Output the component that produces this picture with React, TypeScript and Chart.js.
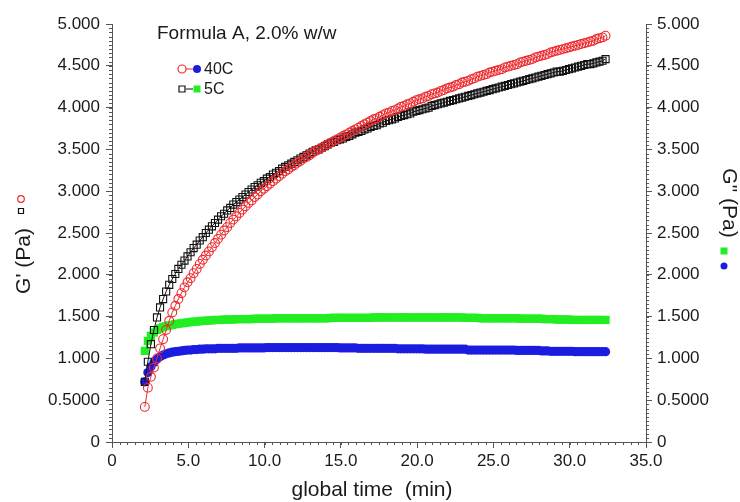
import React, { useEffect, useRef } from "react";
import { Chart, registerables } from "chart.js";

Chart.register(...registerables);

// ---------- data ----------
const timeMin = [
  2.15, 2.35, 2.55, 2.75, 2.95, 3.15, 3.35, 3.55, 3.75, 3.95,
  4.15, 4.35, 4.55, 4.75, 4.95, 5.15, 5.35, 5.55, 5.75, 5.95,
  6.15, 6.35, 6.55, 6.75, 6.95, 7.15, 7.35, 7.55, 7.75, 7.95,
  8.15, 8.35, 8.55, 8.75, 8.95, 9.15, 9.35, 9.55, 9.75, 9.95,
  10.15, 10.35, 10.55, 10.75, 10.95, 11.15, 11.35, 11.55, 11.75, 11.95,
  12.15, 12.35, 12.55, 12.75, 12.95, 13.15, 13.35, 13.55, 13.75, 13.95,
  14.15, 14.35, 14.55, 14.75, 14.95, 15.15, 15.35, 15.55, 15.75, 15.95,
  16.15, 16.35, 16.55, 16.75, 16.95, 17.15, 17.35, 17.55, 17.75, 17.95,
  18.15, 18.35, 18.55, 18.75, 18.95, 19.15, 19.35, 19.55, 19.75, 19.95,
  20.15, 20.35, 20.55, 20.75, 20.95, 21.15, 21.35, 21.55, 21.75, 21.95,
  22.15, 22.35, 22.55, 22.75, 22.95, 23.15, 23.35, 23.55, 23.75, 23.95,
  24.15, 24.35, 24.55, 24.75, 24.95, 25.15, 25.35, 25.55, 25.75, 25.95,
  26.15, 26.35, 26.55, 26.75, 26.95, 27.15, 27.35, 27.55, 27.75, 27.95,
  28.15, 28.35, 28.55, 28.75, 28.95, 29.15, 29.35, 29.55, 29.75, 29.95,
  30.15, 30.35, 30.55, 30.75, 30.95, 31.15, 31.35, 31.55, 31.75, 31.95,
  32.15, 32.35,
];

// 40C, G' (left axis)
const gPrime40C = [
  0.42, 0.65, 0.78, 0.89, 1.0, 1.12, 1.23, 1.34, 1.45, 1.55,
  1.63, 1.71, 1.78, 1.85, 1.91, 1.96, 2.02, 2.07, 2.13, 2.18,
  2.23, 2.28, 2.33, 2.38, 2.43, 2.48, 2.53, 2.57, 2.62, 2.66,
  2.7, 2.74, 2.78, 2.82, 2.86, 2.89, 2.93, 2.96, 3.0, 3.03,
  3.06, 3.09, 3.12, 3.15, 3.18, 3.21, 3.24, 3.26, 3.29, 3.31,
  3.34, 3.36, 3.39, 3.41, 3.43, 3.46, 3.48, 3.5, 3.52, 3.54,
  3.56, 3.58, 3.6, 3.62, 3.64, 3.66, 3.68, 3.7, 3.72, 3.74,
  3.76, 3.78, 3.8, 3.82, 3.84, 3.86, 3.87, 3.89, 3.91, 3.93,
  3.94, 3.96, 3.97, 3.99, 4.01, 4.02, 4.04, 4.05, 4.07, 4.09,
  4.1, 4.11, 4.13, 4.14, 4.16, 4.17, 4.18, 4.2, 4.21, 4.23,
  4.24, 4.25, 4.27, 4.28, 4.3, 4.31, 4.32, 4.34, 4.35, 4.37,
  4.38, 4.39, 4.4, 4.42, 4.43, 4.44, 4.45, 4.46, 4.48, 4.49,
  4.5, 4.51, 4.52, 4.54, 4.55, 4.56, 4.57, 4.58, 4.6, 4.61,
  4.62, 4.63, 4.64, 4.66, 4.67, 4.68, 4.69, 4.7, 4.71, 4.72,
  4.73, 4.74, 4.75, 4.76, 4.77, 4.78, 4.79, 4.8, 4.82, 4.83,
  4.84, 4.86,
];

// 5C, G' (left axis)
const gPrime5C = [
  0.72, 0.96, 1.17, 1.34, 1.49, 1.61, 1.71, 1.8, 1.88, 1.95,
  2.01, 2.07, 2.12, 2.17, 2.22, 2.27, 2.32, 2.36, 2.41, 2.45,
  2.5, 2.54, 2.58, 2.62, 2.66, 2.7, 2.73, 2.77, 2.8, 2.84,
  2.87, 2.9, 2.93, 2.96, 2.99, 3.02, 3.05, 3.07, 3.1, 3.12,
  3.15, 3.17, 3.2, 3.22, 3.24, 3.27, 3.29, 3.31, 3.33, 3.35,
  3.37, 3.39, 3.41, 3.43, 3.45, 3.47, 3.49, 3.5, 3.52, 3.54,
  3.56, 3.58, 3.59, 3.61, 3.62, 3.63, 3.65, 3.66, 3.68, 3.7,
  3.71, 3.72, 3.74, 3.75, 3.77, 3.78, 3.79, 3.81, 3.82, 3.84,
  3.85, 3.86, 3.87, 3.89, 3.9, 3.91, 3.92, 3.93, 3.95, 3.96,
  3.97, 3.98, 3.99, 4.0, 4.02, 4.03, 4.04, 4.05, 4.06, 4.07,
  4.08, 4.09, 4.1, 4.11, 4.12, 4.13, 4.14, 4.15, 4.16, 4.17,
  4.18, 4.19, 4.2, 4.21, 4.22, 4.23, 4.24, 4.25, 4.26, 4.27,
  4.28, 4.29, 4.3, 4.31, 4.32, 4.33, 4.34, 4.35, 4.36, 4.37,
  4.38, 4.39, 4.4, 4.41, 4.42, 4.43, 4.43, 4.44, 4.45, 4.46,
  4.47, 4.48, 4.49, 4.5, 4.51, 4.52, 4.52, 4.53, 4.54, 4.55,
  4.56, 4.58,
];

// 40C, G'' (right axis)
const gDouble40C = [
  0.72, 0.83, 0.9, 0.95, 0.99, 1.02, 1.04, 1.055, 1.065, 1.075,
  1.08, 1.085, 1.09, 1.095, 1.1, 1.1, 1.105, 1.105, 1.11, 1.11,
  1.115, 1.115, 1.115, 1.115, 1.12, 1.12, 1.12, 1.12, 1.12, 1.12,
  1.12, 1.125, 1.125, 1.125, 1.125, 1.125, 1.125, 1.125, 1.125, 1.125,
  1.13, 1.13, 1.13, 1.13, 1.13, 1.13, 1.13, 1.13, 1.13, 1.13,
  1.13, 1.13, 1.13, 1.13, 1.13, 1.13, 1.13, 1.13, 1.13, 1.13,
  1.13, 1.13, 1.13, 1.13, 1.125, 1.125, 1.125, 1.125, 1.125, 1.125,
  1.12, 1.12, 1.12, 1.12, 1.12, 1.12, 1.12, 1.12, 1.12, 1.12,
  1.12, 1.12, 1.12, 1.115, 1.115, 1.115, 1.115, 1.115, 1.115, 1.115,
  1.115, 1.115, 1.11, 1.11, 1.11, 1.11, 1.11, 1.11, 1.11, 1.11,
  1.11, 1.11, 1.11, 1.11, 1.11, 1.11, 1.1, 1.1, 1.1, 1.1,
  1.1, 1.1, 1.1, 1.1, 1.1, 1.1, 1.1, 1.1, 1.1, 1.1,
  1.1, 1.1, 1.095, 1.095, 1.095, 1.095, 1.095, 1.095, 1.095, 1.095,
  1.09, 1.09, 1.09, 1.085, 1.085, 1.085, 1.085, 1.085, 1.085, 1.085,
  1.085, 1.08, 1.08, 1.08, 1.08, 1.08, 1.08, 1.08, 1.08, 1.08,
  1.08, 1.08,
];

// 5C, G'' (right axis)
const gDouble5C = [
  1.09, 1.21, 1.27, 1.31, 1.34, 1.36, 1.375, 1.385, 1.395, 1.4,
  1.41, 1.415, 1.42, 1.425, 1.43, 1.435, 1.44, 1.44, 1.445, 1.45,
  1.45, 1.455, 1.455, 1.46, 1.46, 1.46, 1.465, 1.465, 1.465, 1.465,
  1.47, 1.47, 1.47, 1.47, 1.47, 1.47, 1.475, 1.475, 1.475, 1.475,
  1.475, 1.475, 1.475, 1.48, 1.48, 1.48, 1.48, 1.48, 1.48, 1.48,
  1.48, 1.48, 1.48, 1.48, 1.48, 1.48, 1.48, 1.48, 1.48, 1.48,
  1.48, 1.485, 1.485, 1.485, 1.485, 1.485, 1.485, 1.485, 1.485, 1.485,
  1.485, 1.485, 1.485, 1.485, 1.485, 1.49, 1.49, 1.49, 1.49, 1.49,
  1.49, 1.49, 1.49, 1.49, 1.49, 1.49, 1.49, 1.49, 1.49, 1.49,
  1.49, 1.49, 1.49, 1.49, 1.49, 1.49, 1.49, 1.49, 1.49, 1.49,
  1.49, 1.49, 1.49, 1.49, 1.49, 1.485, 1.485, 1.485, 1.485, 1.485,
  1.48, 1.48, 1.48, 1.48, 1.48, 1.48, 1.48, 1.48, 1.48, 1.48,
  1.48, 1.48, 1.48, 1.475, 1.475, 1.475, 1.475, 1.475, 1.475, 1.475,
  1.475, 1.47, 1.47, 1.47, 1.47, 1.465, 1.465, 1.465, 1.465, 1.465,
  1.46, 1.46, 1.46, 1.46, 1.46, 1.46, 1.46, 1.46, 1.46, 1.46,
  1.46, 1.46,
];

const xTickLabels = ["0", "5.0", "10.0", "15.0", "20.0", "25.0", "30.0", "35.0"];
const yTickLabels = ["0", "0.5000", "1.000", "1.500", "2.000", "2.500", "3.000", "3.500", "4.000", "4.500", "5.000"];
const chartTitle = "Formula A, 2.0% w/w";
const seriesNames = ["40C", "5C"];
const xTitle = "global time  (min)";
const yLeftTitle = "G' (Pa)";
const yRightTitle = "G\" (Pa)";

const X_MIN = 0, X_MAX = 35, X_STEP = 5, X_MINOR = 0.5;
const Y_MIN = 0, Y_MAX = 5, Y_STEP = 0.5, Y_MINOR = 0.05;

// ---------- styles ----------
const FONT = "'Liberation Sans', Arial, Helvetica, sans-serif";
const RED = "#ec2a2e";
const BLACK = "#111111";
const BLUE = "#1c1ce0";
const GREEN = "#22ee22";
const AXIS = "#555555";
const TEXT = "#1a1a1a";

function drawCircle(ctx: CanvasRenderingContext2D, x: number, y: number, r: number, fill: string | null, stroke: string | null) {
  ctx.beginPath();
  ctx.arc(x, y, r, 0, Math.PI * 2);
  if (fill) { ctx.fillStyle = fill; ctx.fill(); }
  if (stroke) { ctx.strokeStyle = stroke; ctx.lineWidth = 1.2; ctx.stroke(); }
}
function drawSquare(ctx: CanvasRenderingContext2D, x: number, y: number, s: number, fill: string | null, stroke: string | null) {
  ctx.beginPath();
  ctx.rect(x - s / 2, y - s / 2, s, s);
  if (fill) { ctx.fillStyle = fill; ctx.fill(); }
  if (stroke) { ctx.strokeStyle = stroke; ctx.lineWidth = 1.2; ctx.stroke(); }
}

const decorPlugin = {
  id: "decor",
  afterDraw(chart: any) {
    const ctx: CanvasRenderingContext2D = chart.ctx;
    const xs = chart.scales.x;
    const yl = chart.scales.y;
    const yr = chart.scales.y2;
    ctx.save();
    // minor ticks
    ctx.strokeStyle = AXIS;
    ctx.lineWidth = 1;
    ctx.beginPath();
    const nx = Math.round((X_MAX - X_MIN) / X_MINOR);
    for (let k = 0; k <= nx; k++) {
      const px = Math.round(xs.getPixelForValue(X_MIN + k * X_MINOR)) + 0.5;
      ctx.moveTo(px, xs.top);
      ctx.lineTo(px, xs.top + 3);
    }
    const ny = Math.round((Y_MAX - Y_MIN) / Y_MINOR);
    for (let k = 0; k <= ny; k++) {
      const py = Math.round(yl.getPixelForValue(Y_MIN + k * Y_MINOR)) + 0.5;
      ctx.moveTo(yl.right, py);
      ctx.lineTo(yl.right - 3, py);
      const py2 = Math.round(yr.getPixelForValue(Y_MIN + k * Y_MINOR)) + 0.5;
      ctx.moveTo(yr.left, py2);
      ctx.lineTo(yr.left + 3, py2);
    }
    ctx.stroke();

    const ca = chart.chartArea;
    // title inside plot
    ctx.fillStyle = TEXT;
    ctx.font = `19px ${FONT}`;
    ctx.textAlign = "left";
    ctx.textBaseline = "alphabetic";
    ctx.fillText(chartTitle, ca.left + 45, ca.top + 15);

    // legend
    const lx = ca.left + 70;
    const ly1 = ca.top + 45;
    const ly2 = ca.top + 65;
    ctx.lineWidth = 1;
    ctx.strokeStyle = RED;
    ctx.beginPath(); ctx.moveTo(lx + 4, ly1); ctx.lineTo(lx + 11, ly1); ctx.stroke();
    drawCircle(ctx, lx, ly1, 4, "#ffffff", RED);
    drawCircle(ctx, lx + 15, ly1, 4, BLUE, null);
    ctx.strokeStyle = BLACK;
    ctx.lineWidth = 1;
    ctx.beginPath(); ctx.moveTo(lx + 4, ly2); ctx.lineTo(lx + 11, ly2); ctx.stroke();
    drawSquare(ctx, lx, ly2, 6, "#ffffff", BLACK);
    drawSquare(ctx, lx + 15, ly2, 7, GREEN, null);
    ctx.fillStyle = TEXT;
    ctx.font = `16px ${FONT}`;
    ctx.textBaseline = "middle";
    ctx.fillText(seriesNames[0], lx + 22, ly1 + 1);
    ctx.fillText(seriesNames[1], lx + 22, ly2 + 1);

    // x axis title
    ctx.font = `21px ${FONT}`;
    ctx.textAlign = "center";
    ctx.textBaseline = "middle";
    ctx.fillText(xTitle, (ca.left + ca.right) / 2 - 7, 490);

    // left axis title
    ctx.save();
    ctx.translate(24, 261);
    ctx.rotate(-Math.PI / 2);
    ctx.font = `21px ${FONT}`;
    ctx.textAlign = "center";
    ctx.textBaseline = "middle";
    ctx.fillText(yLeftTitle, 0, 0);
    ctx.restore();
    drawSquare(ctx, 21, 211, 5, "#ffffff", BLACK);
    drawCircle(ctx, 21, 199, 3.3, "#ffffff", RED);

    // right axis title
    ctx.save();
    ctx.translate(729, 203);
    ctx.rotate(Math.PI / 2);
    ctx.font = `21px ${FONT}`;
    ctx.textAlign = "center";
    ctx.textBaseline = "middle";
    ctx.fillStyle = TEXT;
    ctx.fillText(yRightTitle, 0, 0);
    ctx.restore();
    drawSquare(ctx, 724, 251, 7, GREEN, null);
    drawCircle(ctx, 724, 266, 3.5, BLUE, null);

    ctx.restore();
  },
};

function pts(ys: number[]) {
  return timeMin.map((t, i) => ({ x: t, y: ys[i] }));
}

export default function App() {
  const ref = useRef<HTMLCanvasElement | null>(null);

  useEffect(() => {
    if (!ref.current) return;
    const tickFont = { family: FONT, size: 17 };
    const chart = new Chart(ref.current, {
      type: "scatter",
      data: {
        datasets: [
          {
            label: "40C G'",
            data: pts(gPrime40C),
            yAxisID: "y",
            showLine: true,
            borderColor: RED,
            borderWidth: 1,
            pointStyle: "circle",
            pointRadius: 4.4,
            pointBorderWidth: 1.1,
            pointBorderColor: RED,
            pointBackgroundColor: "rgba(255,255,255,0)",
          },
          {
            label: "5C G'",
            data: pts(gPrime5C),
            yAxisID: "y",
            showLine: true,
            borderColor: BLACK,
            borderWidth: 1,
            pointStyle: "rect",
            pointRadius: 5,
            pointBorderWidth: 1.1,
            pointBorderColor: BLACK,
            pointBackgroundColor: "rgba(255,255,255,0)",
          },
          {
            label: "40C G\"",
            data: pts(gDouble40C),
            yAxisID: "y2",
            showLine: true,
            borderColor: BLUE,
            borderWidth: 1,
            pointStyle: "circle",
            pointRadius: 4.6,
            pointBorderWidth: 0,
            pointBackgroundColor: BLUE,
          },
          {
            label: "5C G\"",
            data: pts(gDouble5C),
            yAxisID: "y2",
            showLine: true,
            borderColor: GREEN,
            borderWidth: 1,
            pointStyle: "rect",
            pointRadius: 5.8,
            pointBorderWidth: 0,
            pointBackgroundColor: GREEN,
          },
        ],
      },
      options: {
        animation: false,
        responsive: false,
        maintainAspectRatio: false,
        layout: { padding: { top: 24, left: 0, right: 0, bottom: 0 } },
        plugins: {
          legend: { display: false },
          title: { display: false },
          tooltip: { enabled: false },
        },
        scales: {
          x: {
            type: "linear",
            position: "bottom",
            min: X_MIN,
            max: X_MAX,
            ticks: {
              stepSize: X_STEP,
              autoSkip: false,
              maxRotation: 0,
              font: tickFont,
              color: TEXT,
              padding: 3,
              callback: (_v: any, i: number) => xTickLabels[i],
            },
            grid: { drawOnChartArea: false, drawTicks: true, tickLength: 6, color: AXIS },
            border: { display: true, color: AXIS, width: 1 },
            afterFit: (s: any) => { s.height = 60; },
          },
          y: {
            type: "linear",
            position: "left",
            min: Y_MIN,
            max: Y_MAX,
            ticks: {
              stepSize: Y_STEP,
              autoSkip: false,
              font: tickFont,
              color: TEXT,
              padding: 6,
              callback: (_v: any, i: number) => yTickLabels[i],
            },
            grid: { drawOnChartArea: false, drawTicks: true, tickLength: 6, color: AXIS },
            border: { display: true, color: AXIS, width: 1 },
            afterFit: (s: any) => { s.width = 112; },
          },
          y2: {
            type: "linear",
            position: "right",
            min: Y_MIN,
            max: Y_MAX,
            ticks: {
              stepSize: Y_STEP,
              autoSkip: false,
              font: tickFont,
              color: TEXT,
              padding: 5,
              callback: (_v: any, i: number) => yTickLabels[i],
            },
            grid: { drawOnChartArea: false, drawTicks: true, tickLength: 6, color: AXIS },
            border: { display: true, color: AXIS, width: 1 },
            afterFit: (s: any) => { s.width = 94; },
          },
        },
      },
      plugins: [decorPlugin],
    });
    return () => chart.destroy();
  }, []);

  return (
    <div style={{ position: "fixed", left: 0, top: 0, width: 740, height: 502, background: "#ffffff" }}>
      <canvas ref={ref} width={740} height={502} style={{ display: "block", width: 740, height: 502 }} />
    </div>
  );
}
